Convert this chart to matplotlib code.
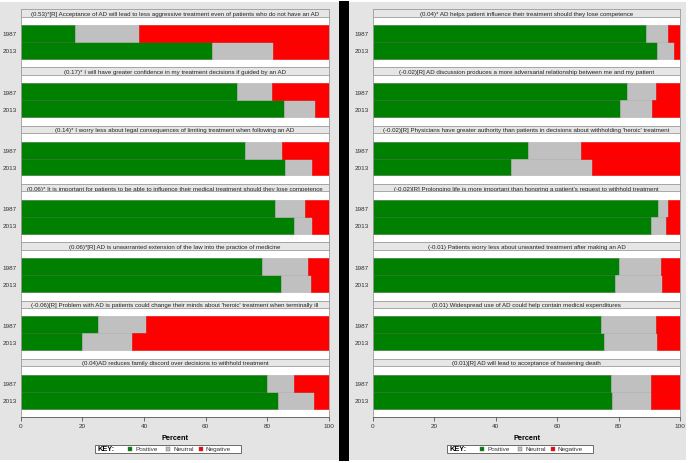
import matplotlib
matplotlib.use("Agg")
import matplotlib.pyplot as plt
from matplotlib.patches import Rectangle

plt.rcParams["font.family"] = ["Liberation Sans", "DejaVu Sans"]

# =====================
# 数据：每道题 1987 / 2013 的 Positive / Neutral / Negative 百分比
# =====================

years = ["1987", "2013"]

left_titles = [
    "(0.53)*[R] Acceptance of AD will lead to less aggressive treatment even of patients who do not have an AD",
    "(0.17)* I will have greater confidence in my treatment decisions if guided by an AD",
    "(0.14)* I worry less about legal consequences of limiting treatment when following an AD",
    "(0.06)* It is important for patients to be able to influence their medical treatment should they lose competence",
    "(0.06)*[R] AD is unwarranted extension of the law into the practice of medicine",
    "(-0.06)[R] Problem with AD is patients could change their minds about 'heroic' treatment when terminally ill",
    "(0.04)AD reduces family discord over decisions to withhold treatment",
]
left_positive = [[17.7, 61.9], [70.2, 85.3], [72.8, 85.7], [82.5, 88.8], [78.4, 84.3], [25.2, 19.9], [79.9, 83.5]]
left_neutral = [[20.7, 20.0], [11.4, 10.2], [12.1, 8.7], [9.7, 5.8], [14.8, 9.7], [15.6, 16.1], [8.7, 11.5]]
left_negative = [[61.6, 18.1], [18.4, 4.5], [15.1, 5.6], [7.8, 5.4], [6.8, 6.0], [59.2, 64.0], [11.4, 5.0]]

right_titles = [
    "(0.04)* AD helps patient influence their treatment should they lose competence",
    "(-0.02)[R] AD discussion produces a more adversarial relationship between me and my patient",
    "(-0.02)[R] Physicians have greater authority than patients in decisions about withholding 'heroic' treatment",
    "(-0.02)[R] Prolonging life is more important than honoring a patient's request to withhold treatment",
    "(-0.01) Patients worry less about unwanted treatment after making an AD",
    "(0.01) Widespread use of AD could help contain medical expenditures",
    "(0.01)[R] AD will lead to acceptance of hastening death",
]
right_positive = [[88.9, 92.5], [82.7, 80.3], [50.6, 45.0], [92.7, 90.5], [80.1, 78.8], [74.2, 75.4], [77.5, 77.9]]
right_neutral = [[7.1, 5.4], [9.5, 10.6], [17.1, 26.2], [3.5, 4.9], [13.7, 15.2], [18.1, 17.1], [13.0, 12.7]]
right_negative = [[4.0, 2.1], [7.8, 9.1], [32.3, 28.8], [3.8, 4.6], [6.2, 6.0], [7.7, 7.5], [9.5, 9.4]]

key_labels = ["Positive", "Neutral", "Negative"]
key_colors = ["#008000", "#c0c0c0", "#ff0000"]

# =====================
# 画布（像素坐标换算）
# =====================

W, H = 688, 464
fig = plt.figure(figsize=(W / 100, H / 100), dpi=100)
fig.patch.set_facecolor("white")


def fx(px):
    return px / W


def fy(py):
    return 1 - py / H


# 背景灰色面板与中间黑色分隔条
fig.add_artist(Rectangle((fx(0), fy(461)), fx(339), 458 / H, transform=fig.transFigure,
                         facecolor="#e4e4e4", edgecolor="none", zorder=0))
fig.add_artist(Rectangle((fx(349), fy(461)), fx(337), 458 / H, transform=fig.transFigure,
                         facecolor="#e4e4e4", edgecolor="none", zorder=0))
fig.add_artist(Rectangle((fx(339), fy(462)), fx(10), 460 / H, transform=fig.transFigure,
                         facecolor="black", edgecolor="none", zorder=0))

PANEL_TOP = 10.0
PANEL_H = 58.3
STRIP_H = 7.5
BORDER = "#9a9a9a"


def draw_side(x0, x1, titles, pos, neu, neg, legend_x):
    n = len(titles)
    for i in range(n):
        top = PANEL_TOP + i * PANEL_H
        # 标题条
        sax = fig.add_axes([fx(x0), fy(top + STRIP_H), fx(x1 - x0), STRIP_H / H])
        sax.set_facecolor("#e6e6e6")
        sax.set_xticks([])
        sax.set_yticks([])
        for s in sax.spines.values():
            s.set_color(BORDER)
            s.set_linewidth(0.6)
        sax.text(0.5, 0.45, titles[i], ha="center", va="center", fontsize=4.4,
                 color="#222222", transform=sax.transAxes)

        # 条形
        ax = fig.add_axes([fx(x0), fy(top + PANEL_H), fx(x1 - x0), (PANEL_H - STRIP_H) / H])
        ax.set_facecolor("white")
        ypos = [0, 1]
        ax.barh(ypos, pos[i], height=1.0, color=key_colors[0], edgecolor="#2e6b2e", linewidth=0.4)
        ax.barh(ypos, neu[i], left=pos[i], height=1.0, color=key_colors[1], edgecolor="#b0b0b0", linewidth=0.4)
        left_neg = [pos[i][k] + neu[i][k] for k in range(2)]
        ax.barh(ypos, neg[i], left=left_neg, height=1.0, color=key_colors[2], edgecolor="#e00000", linewidth=0.4)
        ax.set_xlim(0, 100)
        ax.set_ylim(2.0, -1.0)
        ax.set_yticks(ypos)
        ax.set_yticklabels(years, fontsize=4.6, color="#333333")
        ax.tick_params(axis="y", length=0, pad=3)
        for s in ax.spines.values():
            s.set_color(BORDER)
            s.set_linewidth(0.6)
        if i < n - 1:
            ax.set_xticks([])
        else:
            ax.set_xticks([0, 20, 40, 60, 80, 100])
            ax.tick_params(axis="x", labelsize=4.6, length=3, width=0.6, color="#555555",
                           labelcolor="#333333", pad=1.5)
            ax.spines["bottom"].set_color("#555555")
            ax.set_xlabel("Percent", fontsize=5.3, fontweight="bold", labelpad=4)

    # 图例 KEY
    lx, ly, lw, lh = legend_x, 446, 146, 7.5
    fig.add_artist(Rectangle((fx(lx), fy(ly + lh)), lw / W, lh / H, transform=fig.transFigure,
                             facecolor="white", edgecolor="#555555", linewidth=0.6))
    fig.text(fx(lx + 2), fy(ly + lh / 2), "KEY:", fontsize=5.3, fontweight="bold",
             ha="left", va="center")
    offsets = [33, 71, 104]
    for k in range(3):
        sx = lx + offsets[k]
        fig.add_artist(Rectangle((fx(sx), fy(ly + lh / 2 + 2)), 4 / W, 4 / H,
                                 transform=fig.transFigure, facecolor=key_colors[k],
                                 edgecolor="#666666", linewidth=0.3))
        fig.text(fx(sx + 7), fy(ly + lh / 2), key_labels[k], fontsize=4.6,
                 ha="left", va="center", color="#333333")


draw_side(20.7, 329, left_titles, left_positive, left_neutral, left_negative, 95)
draw_side(373, 680, right_titles, right_positive, right_neutral, right_negative, 447)

fig.savefig("out.png", dpi=100)
